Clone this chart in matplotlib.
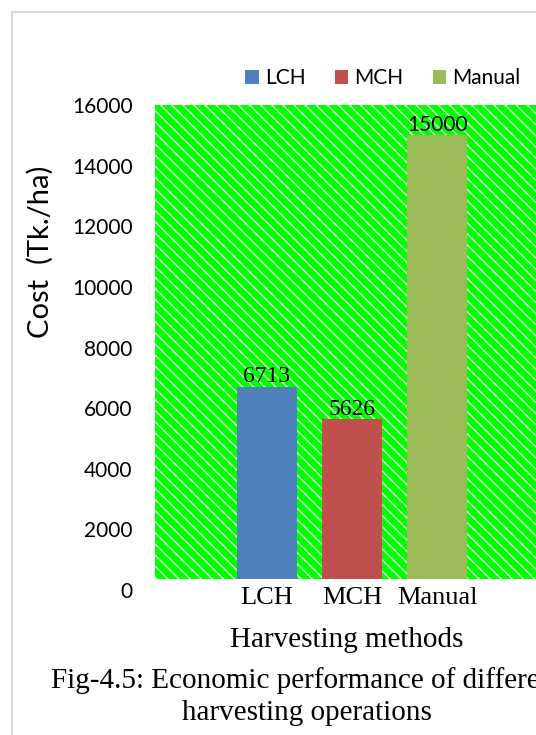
import matplotlib
matplotlib.use("Agg")
import matplotlib.pyplot as plt
from matplotlib.patches import Rectangle

# Harvesting cost by method
methods = ["LCH", "MCH", "Manual"]
costs = [6713, 5626, 15000]
colors = ["#4F81BD", "#C0504D", "#9BBB59"]
y_ticks = [0, 2000, 4000, 6000, 8000, 10000, 12000, 14000, 16000]

W, H, DPI = 536, 735, 100
plt.rcParams["hatch.linewidth"] = 1.1
sans = ["Lato", "DejaVu Sans"]
serif = ["Liberation Serif", "DejaVu Serif"]

fig = plt.figure(figsize=(W / DPI, H / DPI), dpi=DPI)
fig.patch.set_facecolor("white")

def px_box(left, top, right, bottom):
    return [left / W, 1 - bottom / H, (right - left) / W, (bottom - top) / H]

ax = fig.add_axes(px_box(155, 105, 549, 590))
ax.set_facecolor("none")
ax.set_xlim(-1.31, 3.31)
ax.set_ylim(0, 16000)
for s in ax.spines.values():
    s.set_visible(False)

# Hatched plot area (stops slightly above the zero line)
plot_floor = 363
bg = Rectangle((-1.31, plot_floor), 4.62, 16000 - plot_floor,
               facecolor="#00FF00", edgecolor="#c6ffc6", hatch="\\" * 3,
               linewidth=0, zorder=0)
ax.add_patch(bg)

x = list(range(len(methods)))
bars = ax.bar(x, costs, width=0.70, color=colors, zorder=2)
for b, m in zip(bars, methods):
    b.set_label(m)
    b.set_clip_path(bg)

# Value labels
for xi, v in zip(x, costs):
    fam = sans if v >= 10000 else serif
    size = 15 if v >= 10000 else 17
    ax.annotate(f"{v}", (xi, v), xytext=(0, 3), textcoords="offset points",
                ha="center", va="baseline", fontsize=size, family=fam,
                zorder=4)

ax.set_yticks(y_ticks)
ax.set_yticklabels([str(t) for t in y_ticks], family=sans, fontsize=15)
ax.tick_params(axis="y", length=0, pad=16)
ax.set_xticks(x)
ax.set_xticklabels(methods, family=serif, fontsize=19)
ax.tick_params(axis="x", length=0, pad=-2)

fig.text(347 / W, 1 - 647 / H, "Harvesting methods", ha="center",
         va="baseline", family=serif, fontsize=21)
fig.text(40 / W, 1 - 252 / H, "Cost  (Tk./ha)", ha="center", va="center",
         rotation=90, family=sans, fontsize=21)

fig.text(307 / W, 1 - 688 / H,
         "Fig-4.5: Economic performance of different", ha="center",
         va="baseline", family=serif, fontsize=21)
fig.text(307 / W, 1 - 720.5 / H, "harvesting operations", ha="center",
         va="baseline", family=serif, fontsize=21)

leg = fig.legend(handles=list(bars), loc="center", ncol=3,
                 bbox_to_anchor=(383 / W, 1 - 78 / H), frameon=False,
                 prop={"family": sans, "size": 15}, handlelength=0.65,
                 handleheight=0.65, handletextpad=0.3, columnspacing=1.4)

# Page frame
fig.patches.append(Rectangle((12 / W, -0.1), 1.2, 1.1 - 12 / H,
                             transform=fig.transFigure, fill=False,
                             edgecolor="#d9d9d9", linewidth=1.5))

fig.savefig("out.png", dpi=DPI)
